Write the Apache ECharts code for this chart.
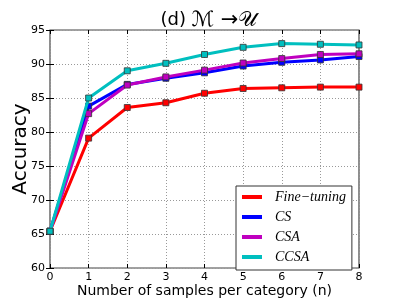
<!DOCTYPE html>
<html><head><meta charset="utf-8">
<script src="https://cdn.jsdelivr.net/npm/echarts@6/dist/echarts.min.js"></script>
<style>html,body{margin:0;padding:0;background:#fff}#c{width:399px;height:299px}</style>
</head><body><div id="c"></div>
<script>
var categories = [0,1,2,3,4,5,6,7,8];
var fineTuning = [65.4,79.1,83.6,84.3,85.7,86.4,86.5,86.6,86.6];
var cs        = [65.4,83.8,87.0,87.9,88.7,89.7,90.25,90.6,91.1];
var csa       = [65.4,82.7,86.9,88.1,89.1,90.15,90.8,91.4,91.5];
var ccsa      = [65.4,85.0,89.0,90.1,91.4,92.45,93.0,92.9,92.8];
var seriesNames = ['Fine\u2212tuning','CS','CSA','CCSA'];
var seriesColors = ['#ff0000','#0000ff','#bf00bf','#00bfbf'];
var seriesData = [fineTuning, cs, csa, ccsa];
var yTicks = [60,65,70,75,80,85,90,95];

var chart = echarts.init(document.getElementById('c'));
function pairs(arr){ return arr.map(function(v,i){ return [categories[i], v]; }); }
var series = seriesData.map(function(d,i){
  return {
    name: seriesNames[i], type:'line', data: pairs(d),
    xAxisIndex:0, yAxisIndex:0,
    symbol:'rect', symbolSize:6, showSymbol:true,
    lineStyle:{color:seriesColors[i], width:3},
    itemStyle:{color:seriesColors[i], borderColor:'#333', borderWidth:0.8},
    emphasis:{disabled:true}, animation:false, z: 2+i
  };
});
var grid = {left:50, right:40, top:30, bottom:31, show:true, borderColor:'#444', borderWidth:1.2, containLabel:false, outerBoundsMode:'none'};
var axisLabelStyle = {color:'#000', fontSize:11, fontFamily:'DejaVu Sans'};
chart.setOption({
  animation:false,
  title:{text:'{a|(d) }{m|\u2133 \u2192\uD835\uDCB0}', left:204, textAlign:'center', top:5,
    textStyle:{fontSize:18, fontWeight:'normal', color:'#000', fontFamily:'DejaVu Sans',
      rich:{a:{fontSize:18, fontFamily:'DejaVu Sans', color:'#000'},
            m:{fontSize:21, fontFamily:'DejaVu Sans', color:'#000'}}}},
  grid: grid,
  legend:{
    orient:'vertical', left:236, top:186,
    data: seriesNames, icon:'rect', itemWidth:20, itemHeight:4, itemGap:6,
    itemStyle:{borderWidth:0},
    padding:[4,6,6,6], borderColor:'#333', borderWidth:1, backgroundColor:'#fff',
    textStyle:{fontFamily:'Liberation Serif', fontStyle:'italic', fontSize:14, color:'#000', padding:[0,0,0,8]}
  },
  xAxis:[{
    type:'value', min:0, max:8, interval:1,
    name:'Number of samples per category (n)', nameLocation:'middle', nameGap:16, nameMoveOverlap:false,
    nameTextStyle:{fontSize:14, color:'#000', fontFamily:'DejaVu Sans'},
    axisLine:{show:false}, axisTick:{show:true, inside:true, length:4, lineStyle:{color:'#000'}},
    axisLabel:Object.assign({margin:4}, axisLabelStyle),
    splitLine:{show:true, lineStyle:{color:'#999', type:[1,2], width:1}}
  },{
    type:'value', min:0, max:8, interval:1, position:'top',
    axisLine:{show:false}, axisTick:{show:true, inside:true, length:4, lineStyle:{color:'#000'}},
    axisLabel:{show:false}, splitLine:{show:false}
  }],
  yAxis:[{
    type:'value', min:60, max:95, interval:5,
    name:'Accuracy', nameLocation:'middle', nameGap:19, nameMoveOverlap:false,
    nameTextStyle:{fontSize:20, color:'#000', fontFamily:'DejaVu Sans'},
    axisLine:{show:false}, axisTick:{show:true, inside:true, length:4, lineStyle:{color:'#000'}},
    axisLabel:Object.assign({margin:5, formatter:function(v){return yTicks.indexOf(v)>=0?String(v):'';}}, axisLabelStyle),
    splitLine:{show:true, lineStyle:{color:'#999', type:[1,2], width:1}}
  },{
    type:'value', min:60, max:95, interval:5, position:'right',
    axisLine:{show:false}, axisTick:{show:true, inside:true, length:4, lineStyle:{color:'#000'}},
    axisLabel:{show:false}, splitLine:{show:false}
  }],
  series: series
});
</script></body></html>
